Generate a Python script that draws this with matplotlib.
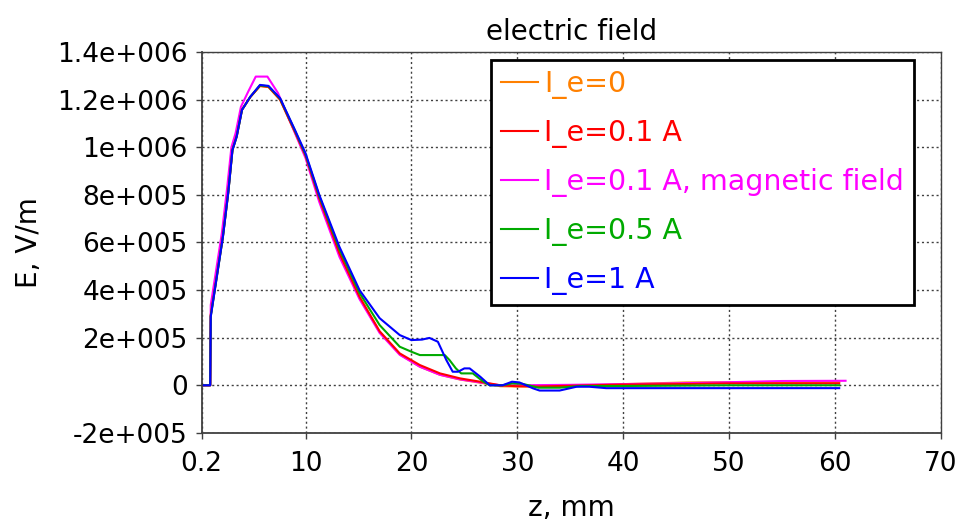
import matplotlib
matplotlib.use("Agg")
import matplotlib.pyplot as plt

# z in mm, E in V/m
z_0 = [0.2, 1.0, 1.05, 2.2, 2.7, 3.1, 3.5, 4.0, 4.8, 5.7, 6.5, 7.6, 9.0, 10.0, 11.3, 13.2, 15.1, 17.0,
       18.9, 20.8, 22.7, 24.6, 26.5, 28.4, 30.0, 32.0, 35.0, 40.0, 46.0, 54.0, 60.4]
E_0 = [0, 0, 2.95e5, 6.26e5, 8.1e5, 9.9e5, 1.046e6, 1.158e6, 1.212e6, 1.257e6, 1.253e6, 1.2e6, 1.063e6,
       9.62e5, 7.82e5, 5.52e5, 3.68e5, 2.24e5, 1.3e5, 7.8e4, 4.4e4, 2.4e4, 1.1e4, -4e3, -5e3, -5e3,
       -2e3, 5e3, 1.2e4, 1.4e4, 1.4e4]

z_01 = [0.2, 1.0, 1.05, 2.2, 2.7, 3.1, 3.5, 4.0, 4.8, 5.7, 6.5, 7.6, 9.0, 10.0, 11.3, 13.2, 15.1, 17.0,
        18.9, 20.8, 22.7, 24.6, 26.5, 28.4, 30.0, 32.0, 35.0, 40.0, 45.0, 50.0, 55.0, 60.4]
E_01 = [0, 0, 2.95e5, 6.28e5, 8.12e5, 9.9e5, 1.048e6, 1.158e6, 1.212e6, 1.258e6, 1.254e6, 1.2e6, 1.065e6,
        9.65e5, 7.85e5, 5.55e5, 3.72e5, 2.27e5, 1.34e5, 8.5e4, 5e4, 2.9e4, 1.5e4, 0, -4e3, -5e3, -2e3,
        3e3, 5e3, 8e3, 8e3, 8e3]

z_01m = [0.2, 1.0, 1.05, 2.1, 2.6, 3.0, 3.4, 3.9, 4.6, 5.3, 6.4, 7.4, 9.0, 10.0, 11.3, 13.2, 15.1, 17.0,
         18.9, 20.8, 22.7, 24.6, 26.5, 28.4, 30.0, 35.0, 40.0, 45.0, 50.0, 55.0, 61.0]
E_01m = [0, 0, 3.37e5, 6.4e5, 8.3e5, 1.0e6, 1.06e6, 1.17e6, 1.235e6, 1.297e6, 1.297e6, 1.228e6, 1.06e6,
         9.55e5, 7.7e5, 5.4e5, 3.62e5, 2.2e5, 1.28e5, 7.8e4, 4.4e4, 2.5e4, 1.2e4, 0, 0, 2e3, 5e3, 8e3,
         1.3e4, 1.8e4, 1.9e4]

z_05 = [0.2, 1.0, 1.05, 2.2, 2.7, 3.1, 3.5, 4.0, 4.8, 5.7, 6.5, 7.6, 9.0, 10.0, 11.3, 13.2, 15.1, 17.0,
        18.9, 20.0, 20.8, 23.15, 23.6, 24.2, 24.7, 25.8, 26.8, 27.4, 28.6, 29.5, 30.5, 32.0, 34.0, 36.0,
        40.0, 50.0, 60.4]
E_05 = [0, 0, 2.9e5, 6.24e5, 8.08e5, 9.88e5, 1.045e6, 1.157e6, 1.213e6, 1.26e6, 1.256e6, 1.204e6, 1.07e6,
        9.7e5, 7.95e5, 5.72e5, 3.88e5, 2.53e5, 1.62e5, 1.41e5, 1.27e5, 1.27e5, 1.06e5, 7.1e4, 5e4, 5e4,
        1.5e4, 0, 0, 8e3, 6e3, -1e4, -1e4, -3e3, -3e3, 0, 0]

z_1 = [0.2, 1.0, 1.05, 2.2, 2.7, 3.1, 3.5, 4.0, 4.8, 5.7, 6.5, 7.6, 9.0, 10.0, 11.3, 13.2, 15.1, 17.0,
       18.9, 20.0, 21.0, 21.7, 22.5, 23.3, 23.9, 24.4, 25.0, 25.5, 26.5, 27.4, 28.6, 29.5, 30.2, 31.5,
       32.1, 34.0, 35.6, 36.8, 38.4, 45.0, 52.0, 60.4]
E_1 = [0, 0, 2.88e5, 6.24e5, 8.08e5, 9.88e5, 1.045e6, 1.157e6, 1.213e6, 1.262e6, 1.258e6, 1.206e6, 1.073e6,
       9.75e5, 8.0e5, 5.82e5, 4.0e5, 2.82e5, 2.11e5, 1.9e5, 1.92e5, 1.99e5, 1.83e5, 1.06e5, 5.7e4, 5.7e4,
       7.1e4, 7.1e4, 3.6e4, 0, 0, 1.5e4, 1.2e4, -1.3e4, -2.2e4, -2.2e4, -6e3, -6e3, -1.2e4, -1.2e4,
       -1.2e4, -1.2e4]

labels = ["I_e=0", "I_e=0.1 A", "I_e=0.1 A, magnetic field", "I_e=0.5 A", "I_e=1 A"]
colors = ["#ff8000", "#ff0000", "#ff00ff", "#00aa00", "#0000ff"]
zorders = [2.0, 2.2, 2.1, 2.3, 2.4]

x_ticks = [0.2, 10, 20, 30, 40, 50, 60, 70]
x_ticklabels = ["0.2", "10", "20", "30", "40", "50", "60", "70"]
y_ticks = [-2e5, 0, 2e5, 4e5, 6e5, 8e5, 1e6, 1.2e6, 1.4e6]
y_ticklabels = ["-2e+005", "0", "2e+005", "4e+005", "6e+005", "8e+005", "1e+006", "1.2e+006", "1.4e+006"]

plt.rcParams["font.family"] = "DejaVu Sans"
fig = plt.figure(figsize=(9.63, 5.26), dpi=100)
ax = fig.add_axes([0.2095, 0.177, 0.7675, 0.724])

series = [(z_0, E_0), (z_01, E_01), (z_01m, E_01m), (z_05, E_05), (z_1, E_1)]
for (z, E), lab, c, zo in zip(series, labels, colors, zorders):
    ax.plot(z, E, color=c, lw=1.5, label=lab, zorder=zo)

ax.set_xlim(0.2, 70)
ax.set_ylim(-2e5, 1.4e6)
ax.set_xticks(x_ticks)
ax.set_xticklabels(x_ticklabels)
ax.set_yticks(y_ticks)
ax.set_yticklabels(y_ticklabels)
ax.tick_params(labelsize=19, length=4, width=1, color="#404040", pad=6)
ax.tick_params(axis="x", pad=9)
ax.grid(True, color="#404040", lw=1, linestyle=(0, (1.5, 2)))
for s in ax.spines.values():
    s.set_color("#404040")
    s.set_linewidth(1)
ax.spines["left"].set_linewidth(1.3)
ax.spines["bottom"].set_linewidth(1.3)

ax.set_title("electric field", fontsize=20, pad=9)
ax.set_xlabel("z, mm", fontsize=20, labelpad=12)
ax.set_ylabel("E, V/m", fontsize=20, labelpad=10)

leg = ax.legend(loc="upper right", bbox_to_anchor=(0.9635, 0.979), borderaxespad=0, fontsize=20.5,
                labelcolor="linecolor", fancybox=False, framealpha=1, edgecolor="black",
                handlelength=1.3, handletextpad=0.2, labelspacing=0.7, borderpad=0.35)
leg.get_frame().set_linewidth(2)

fig.savefig("out.png", dpi=100)
